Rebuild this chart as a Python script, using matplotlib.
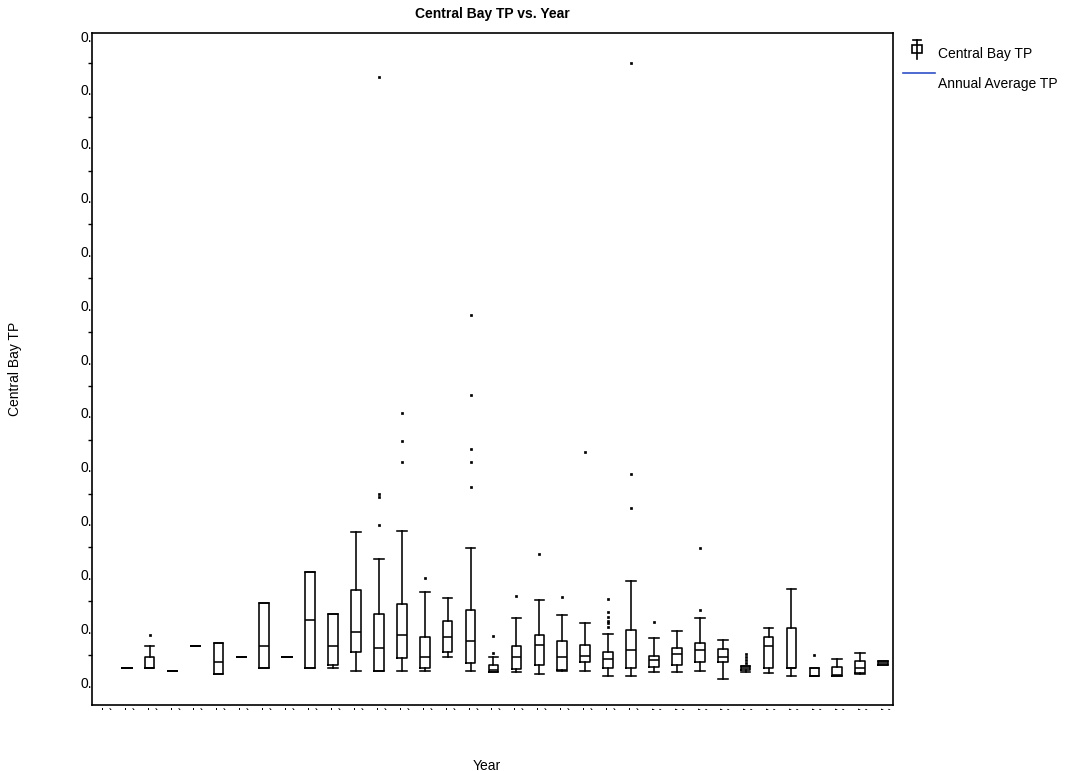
import matplotlib
matplotlib.use('Agg')
import matplotlib.pyplot as plt
from matplotlib.lines import Line2D
from matplotlib.patches import Rectangle
from matplotlib.ticker import AutoMinorLocator
from matplotlib.transforms import Bbox, TransformedBbox

plt.rcParams['font.family'] = ['Liberation Sans', 'DejaVu Sans']

# data (TP, one box per year)
all_years = list(range(1976, 2011))
years = list(range(1977, 2011))
q1 = [.01266, .0126, .01204, .01669, .01143, .01464, .01266, .01464, .01266, .01316,
      .01552, .01204, .0144, .01254, .01552, .01347, .0118, .01236, .0131, .01223,
      .01372, .01266, .0126, .01284, .01316, .01377, .01377, .01223, .01254, .01254,
      .01111, .01111, .01162, .0131]
med = [.01266, .0126, .01204, .01669, .01372, .01464, .01669, .01464, .02152, .01669,
       .01923, .01637, .01873, .01464, .01842, .01756, .01223, .01464, .01693, .01464,
       .01489, .01422, .01589, .01409, .0152, .01589, .0147, .01254, .01663, .01254,
       .01111, .0113, .01254, .01353]
q3 = [.01266, .01464, .01204, .01669, .0173, .01464, .02473, .01464, .03049, .0227,
      .02704, .0227, .02443, .01842, .02133, .02332, .01316, .01669, .01868, .01756,
      .01693, .01552, .0196, .01489, .01637, .0173, .01607, .01297, .01836, .02009,
      .01266, .01284, .0139, .01396]
whis_lo = [.01266, .0126, .01204, .01669, .01143, .01464, .01266, .01464, .01266, .01266,
           .01204, .01204, .01204, .0121, .01464, .01204, .0118, .0118, .01143, .01204,
           .0121, .01117, .01117, .0118, .0118, .0121, .01056, .01186, .01173, .01117,
           .01111, .01111, .01149, .0131]
whis_hi = [.01266, .01669, .01204, .01669, .0173, .01464, .02473, .01464, .03049, .0227,
           .03787, .03285, .03805, .02678, .0256, .03495, .01464, .02189, .02529, .02245,
           .02102, .01897, .02882, .01812, .01953, .02183, .0178, .01297, .02009, .02733,
           .01266, .01427, .01544, .01396]
outliers = [[], [.01879], [], [], [], [], [], [], [], [],
            [], [.03917, .04437, .04493, .12245], [.05093, .05472, .05992], [.02926], [],
            [.04628, .05093, .05328, .06337, .07818], [.01533, .01855], [.02603], [.03383], [.02579],
            [.05267], [.02027, .0209, .02139, .02202, .02295, .02536], [.04227, .04864, .12505],
            [.02115], [], [.02343, .03489], [], [.01347, .01409, .01459, .0152], [], [],
            [.01507], [], [], []]
ytick_vals = [0.01, 0.02, 0.03, 0.04, 0.05, 0.06, 0.07, 0.08, 0.09, 0.10, 0.11, 0.12, 0.13]

W, H = 1065, 771
fig = plt.figure(figsize=(W / 100, H / 100), dpi=100)
ax = fig.add_axes([92 / W, 66 / H, 801 / W, 672 / H])

stats = []
for i in range(len(years)):
    stats.append(dict(med=med[i], q1=q1[i], q3=q3[i], whislo=whis_lo[i],
                      whishi=whis_hi[i], fliers=outliers[i]))

lp = dict(color='black', linewidth=1.15)
ax.bxp(stats, positions=years, widths=0.42, capwidths=0.42, manage_ticks=False,
       boxprops=lp, medianprops=lp, whiskerprops=lp, capprops=lp,
       flierprops=dict(marker='s', markersize=1.8, markerfacecolor='black',
                       markeredgecolor='black', markeredgewidth=0.5, linestyle='none'))

ax.set_xlim(1975.485, 2010.43)
ax.set_ylim(0.00573, 0.13056)
ax.set_xticks(all_years)
ax.set_xticklabels([str(y) for y in all_years], rotation=-90, fontsize=10)
ax.set_yticks(ytick_vals)
ax.set_yticklabels(['%.2f' % v for v in ytick_vals], fontsize=10)
ax.yaxis.set_minor_locator(AutoMinorLocator(2))
ax.tick_params(axis='x', length=0, pad=1.4)
ax.tick_params(axis='y', which='major', length=0, pad=8.6)
ax.tick_params(axis='y', which='minor', direction='out', length=3, width=1)
for s in ax.spines.values():
    s.set_linewidth(1.2)

ax.set_title('Central Bay TP vs. Year', fontweight='bold', fontsize=10, pad=11)
ax.set_xlabel('Year', fontsize=10)
ax.xaxis.set_label_coords(0.493, -0.08)
ax.set_ylabel('Central Bay TP', fontsize=10)
ax.yaxis.set_label_coords(-0.096, 0.5)
ax.yaxis.label.set_va('center')

# legend drawn by hand outside the axes
def fx(x):
    return x / W

def fy(y):
    return 1 - y / H

fig.add_artist(Line2D([fx(917), fx(917)], [fy(40), fy(59)], color='black', lw=1.2))
fig.add_artist(Line2D([fx(913), fx(921)], [fy(40), fy(40)], color='black', lw=1.2))
fig.add_artist(Rectangle((fx(912), fy(53)), fx(10), 8 / H, facecolor='white',
                         edgecolor='black', lw=1.2))
fig.add_artist(Line2D([fx(903), fx(935)], [fy(73), fy(73)], color='#3050c8', lw=1.2))
fig.text(fx(938), fy(54), 'Central Bay TP', fontsize=10, va='center', ha='left')
fig.text(fx(938), fy(84), 'Annual Average TP', fontsize=10, va='center', ha='left')

# tick labels are cut off in the original, clip them the same way
fig.canvas.draw()
xclip = TransformedBbox(Bbox([[0, 61 / H], [1, 66 / H]]), fig.transFigure)
for lbl in ax.get_xticklabels():
    lbl.set_clip_box(xclip)
    lbl.set_clip_on(True)
yclip = TransformedBbox(Bbox([[0, 0], [90.5 / W, 1]]), fig.transFigure)
for lbl in ax.get_yticklabels():
    lbl.set_ha('left')
    lbl.set_clip_box(yclip)
    lbl.set_clip_on(True)

fig.savefig('out.png', dpi=100)
